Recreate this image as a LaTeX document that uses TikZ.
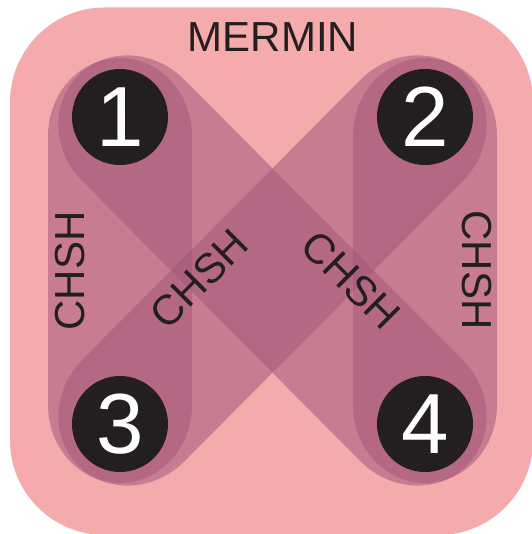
\documentclass[tikz,border=0pt]{standalone}
\usepackage{fontspec}
\setmainfont{Liberation Sans}
\definecolor{merminpink}{RGB}{245,170,172}
\definecolor{chshband}{RGB}{164,88,123}
\definecolor{ink}{RGB}{35,31,32}
\tikzset{every picture/.style={line width=0.75pt},
  qubit/.style={circle, fill=ink, text=white, minimum size=72pt, inner sep=0pt, font=\fontsize{64}{70}\selectfont},
  testname/.style={text=ink, inner sep=0.75pt, font=\fontsize{31.5}{36}\selectfont},
  pairband/.style={fill=chshband, fill opacity=0.55, draw=none}}

\begin{document}
\begin{tikzpicture}[x=0.75pt,y=0.75pt,yscale=-1,xscale=1]
\useasboundingbox (0,0) rectangle (531,534);
\fill [white] (0,0) rectangle (531,534);

%Shape: Rounded Rect [MERMIN]
\fill [merminpink, rounded corners=71pt] (10,7.5) rectangle (533,535);

%Shape: Bands [CHSH pairs 1-3, 2-4, 1-4, 2-3]
\foreach \x/\y/\a/\l in {120/117/90/307, 425/117/90/307, 120/117/45.19/432.7, 425/117/134.81/432.7}
  \fill [pairband, shift={(\x,\y)}, rotate=\a] (19,-72) -- (\l-19,-72) arc [start angle=-90, end angle=90, x radius=78, y radius=72] -- (19,72) arc [start angle=90, end angle=270, x radius=78, y radius=72] -- cycle ;

% Qubits
\coordinate (c1) at (120,117);
\coordinate (c2) at (425,117);
\coordinate (c3) at (120,424);
\coordinate (c4) at (425,424);
\node [qubit] (q1) at (c1) {1};
\node [qubit] (q2) at (c2) {2};
\node [qubit] (q3) at (c3) {3};
\node [qubit] (q4) at (c4) {4};

% Text Node
\node [testname] (mermin) at (273,37) {MERMIN};
% Text Node
\node [testname, rotate=90] (chsh13) at (70.5,271) {CHSH};
% Text Node
\node [testname, rotate=-90] (chsh24) at (477,270) {CHSH};
% Text Node
\node [testname, rotate=45] (chsh23) at (199,279) {CHSH};
% Text Node
\node [testname, rotate=-45] (chsh14) at (351,280) {CHSH};

\end{tikzpicture}
\end{document}
